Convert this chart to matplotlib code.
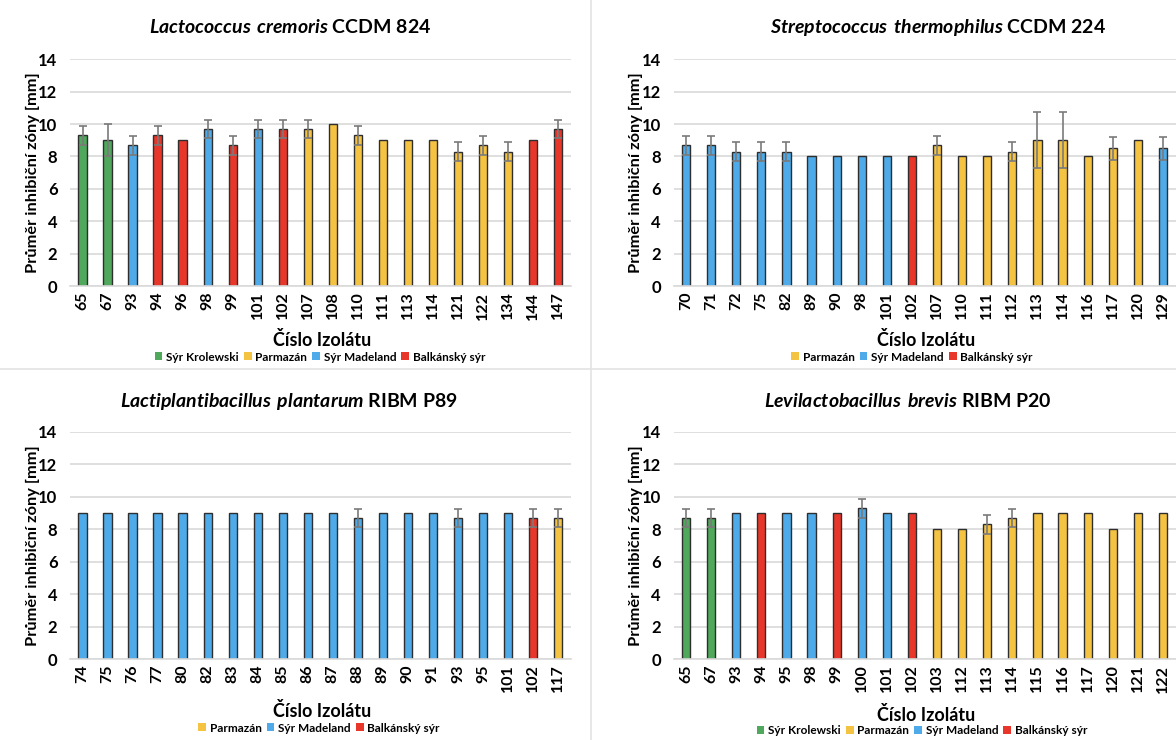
import matplotlib.pyplot as plt
from matplotlib.patches import Patch
from matplotlib.lines import Line2D

plt.rcParams['font.family'] = ['Lato', 'DejaVu Sans']
plt.rcParams['font.weight'] = 'bold'
plt.rcParams['mathtext.fontset'] = 'custom'
plt.rcParams['mathtext.bfit'] = 'Lato:italic:bold'
plt.rcParams['mathtext.rm'] = 'Lato:bold'

K, P, M, B = 'Sýr Krolewski', 'Parmazán', 'Sýr Madeland', 'Balkánský sýr'
colors = {K: '#4fa85b', P: '#f5c342', M: '#4eaae8', B: '#e8372a'}

# Lactococcus cremoris CCDM 824
lc_iso = ['65', '67', '93', '94', '96', '98', '99', '101', '102', '107',
          '108', '110', '111', '113', '114', '121', '122', '134', '144', '147']
lc_mean = [9.3, 9.0, 8.7, 9.3, 9.0, 9.7, 8.7, 9.7, 9.7, 9.7,
           10.0, 9.3, 9.0, 9.0, 9.0, 8.3, 8.7, 8.3, 9.0, 9.7]
lc_sd = [0.58, 1.0, 0.58, 0.58, 0, 0.58, 0.58, 0.58, 0.58, 0.58,
         0, 0.58, 0, 0, 0, 0.58, 0.58, 0.58, 0, 0.58]
lc_src = [K, K, M, B, B, M, B, M, B, P, P, P, P, P, P, P, P, P, B, B]

# Streptococcus thermophilus CCDM 224
st_iso = ['70', '71', '72', '75', '82', '89', '90', '98', '101', '102',
          '107', '110', '111', '112', '113', '114', '116', '117', '120', '129']
st_mean = [8.7, 8.7, 8.3, 8.3, 8.3, 8.0, 8.0, 8.0, 8.0, 8.0,
           8.7, 8.0, 8.0, 8.3, 9.0, 9.0, 8.0, 8.5, 9.0, 8.5]
st_sd = [0.58, 0.58, 0.58, 0.58, 0.58, 0, 0, 0, 0, 0,
         0.58, 0, 0, 0.58, 1.73, 1.73, 0, 0.71, 0, 0.71]
st_src = [M, M, M, M, M, M, M, M, M, B, P, P, P, P, P, P, P, P, P, M]

# Lactiplantibacillus plantarum RIBM P89
lp_iso = ['74', '75', '76', '77', '80', '82', '83', '84', '85', '86',
          '87', '88', '89', '90', '91', '93', '95', '101', '102', '117']
lp_mean = [9.0, 9.0, 9.0, 9.0, 9.0, 9.0, 9.0, 9.0, 9.0, 9.0,
           9.0, 8.7, 9.0, 9.0, 9.0, 8.7, 9.0, 9.0, 8.7, 8.7]
lp_sd = [0, 0, 0, 0, 0, 0, 0, 0, 0, 0,
         0, 0.58, 0, 0, 0, 0.58, 0, 0, 0.58, 0.58]
lp_src = [M] * 18 + [B, P]

# Levilactobacillus brevis RIBM P20
lb_iso = ['65', '67', '93', '94', '95', '98', '99', '100', '101', '102',
          '103', '112', '113', '114', '115', '116', '117', '120', '121', '122']
lb_mean = [8.7, 8.7, 9.0, 9.0, 9.0, 9.0, 9.0, 9.3, 9.0, 9.0,
           8.0, 8.0, 8.3, 8.7, 9.0, 9.0, 9.0, 8.0, 9.0, 9.0]
lb_sd = [0.58, 0.58, 0, 0, 0, 0, 0, 0.58, 0, 0,
         0, 0, 0.58, 0.58, 0, 0, 0, 0, 0, 0]
lb_src = [K, K, M, B, M, M, B, M, M, B, P, P, P, P, P, P, P, P, P, P]

W, H = 1176, 740
fig = plt.figure(figsize=(W / 100, H / 100), dpi=100)


def px(x, y):
    return x / W, 1 - y / H


def panel(left, right, top, bottom, species, strain, title_x, title_y,
          iso, mean, sd, src, legend_keys, xl_x, xl_y, lg_x, lg_y, yl_x):
    ax = fig.add_axes([left / W, 1 - bottom / H, (right - left) / W, (bottom - top) / H])
    x = list(range(len(iso)))
    ax.bar(x, mean, width=0.33, color=[colors[s] for s in src],
           edgecolor='#2e2e2e', linewidth=1, zorder=2)
    idx = [i for i in x if sd[i] > 0]
    ax.errorbar(idx, [mean[i] for i in idx], yerr=[sd[i] for i in idx], fmt='none',
                ecolor='#7a7a7a', elinewidth=1.2, capsize=2.6, capthick=1.2, zorder=3)
    ax.set_xlim(-0.5, len(iso) - 0.5)
    ax.set_ylim(0, 14)
    ax.set_yticks(range(0, 15, 2))
    ax.set_xticks(x)
    ax.set_xticklabels(iso, rotation=90, fontsize=11.5, fontweight='bold')
    ax.tick_params(axis='y', labelsize=12, length=0, pad=9)
    ax.tick_params(axis='x', length=0, pad=4)
    ax.yaxis.grid(True, color='#d9d9d9', linewidth=1.2, zorder=0)
    ax.set_axisbelow(True)
    for s in ['top', 'right', 'left']:
        ax.spines[s].set_visible(False)
    ax.spines['bottom'].set_color('#d9d9d9')
    ax.spines['bottom'].set_linewidth(1.2)

    sp = species.replace(' ', r'\ ')
    fig.text(*px(title_x, title_y), r'$\mathbfit{' + sp + '}$ ' + strain,
             ha='center', va='center', fontsize=14, fontweight='bold')
    fig.text(*px(xl_x, xl_y), 'Číslo Izolátu', ha='center', va='center',
             fontsize=13, fontweight='bold')
    fig.text(*px(yl_x, (top + bottom) / 2), 'Průměr inhibiční zóny [mm]',
             rotation=90, ha='center', va='center', fontsize=11.8, fontweight='bold')
    handles = [Patch(facecolor=colors[k], edgecolor='none') for k in legend_keys]
    ax.legend(handles, legend_keys, loc='center', bbox_to_anchor=px(lg_x, lg_y),
              bbox_transform=fig.transFigure, ncol=len(legend_keys), frameon=False,
              fontsize=8.5, handlelength=0.65, handleheight=0.65,
              handletextpad=0.3, columnspacing=0.45, borderpad=0)
    return ax


panel(70, 570.5, 59.3, 286, 'Lactococcus cremoris', 'CCDM 824', 290, 27,
      lc_iso, lc_mean, lc_sd, lc_src, [K, P, M, B], 322, 340, 320, 357, 33)
panel(673.5, 1175.5, 59.3, 286, 'Streptococcus thermophilus', 'CCDM 224', 938, 27,
      st_iso, st_mean, st_sd, st_src, [P, M, B], 926, 340, 912, 357, 636)
panel(70, 570.5, 432, 659, 'Lactiplantibacillus plantarum', 'RIBM P89', 289, 401,
      lp_iso, lp_mean, lp_sd, lp_src, [P, M, B], 322, 711, 319, 728, 33)
panel(673.5, 1175.5, 432, 659, 'Levilactobacillus brevis', 'RIBM P20', 908, 401,
      lb_iso, lb_mean, lb_sd, lb_src, [K, P, M, B], 926, 715, 922, 731, 636)

# light separators between the four charts
fig.add_artist(Line2D([591 / W, 591 / W], [0, 1], color='#e3e3e3', linewidth=1.2))
fig.add_artist(Line2D([0, 1], [1 - 369 / H, 1 - 369 / H], color='#e3e3e3', linewidth=1.2))

fig.savefig('out.png', dpi=100)
